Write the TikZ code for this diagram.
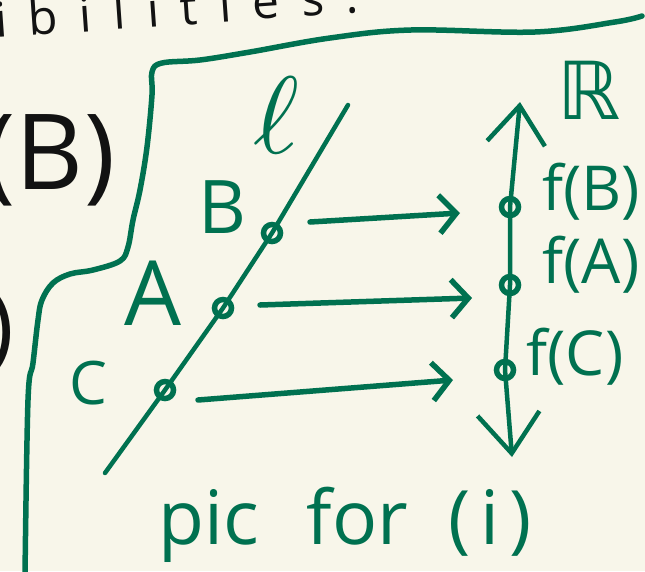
\documentclass[tikz,border=0pt]{standalone}
\usepackage{fontspec}
\usepackage{graphicx}
\setmainfont{Open Sans}
\newfontfamily\glyphfont{DejaVu Sans}
\newfontfamily\widefont[LetterSpace=45]{Open Sans}
\usetikzlibrary{arrows.meta}
\definecolor{ink}{RGB}{0,113,80}
\definecolor{paper}{RGB}{248,246,234}
\definecolor{pencil}{RGB}{18,18,18}
\begin{document}
\begin{tikzpicture}[x=1pt,y=-1pt,
  stroke/.style={draw=ink,line width=5.5pt,line cap=round,line join=round},
  dot/.style={circle,draw=ink,line width=5.5pt,minimum size=17pt,inner sep=0pt},
  lbl/.style={text=ink,inner sep=0pt},
  blk/.style={text=pencil,inner sep=0pt},
  mapsto/.style={stroke,-{Straight Barb[length=17pt,width=38pt]}},
  axis/.style={stroke,{Straight Barb[length=40pt,width=62pt]}-{Straight Barb[length=38pt,width=58pt]}}]
\useasboundingbox (0,0) rectangle (645,571);
\fill[paper] (0,0) rectangle (645,571);
\begin{scope}
\clip (0,0) rectangle (645,571);

% black notes left over from the previous part of the page
\node[blk,anchor=base west,rotate=4,font=\widefont\fontsize{48}{48}\selectfont] (word) at (-4,38) {ibilities.};
\node[blk,font=\fontsize{105}{105}\selectfont] (bracket) at (50,160) {(B)};
\node[blk,anchor=east,font=\fontsize{90}{90}\selectfont] (rparen) at (14,332) {)};

% hand-drawn frame around the sketch
\draw[stroke] plot[smooth,tension=0.6] coordinates {(642,16) (615,22) (535,32) (411,30) (330,38) (250,52) (200,60) (162,63) (152,72) (152,95) (147,147) (140,190) (133,220) (128,247) (120,261) (93,270) (70,274) (53,283) (42,300) (38,320) (33,363) (28,400) (25,575)};

% the line l with its three points
\coordinate (lbot) at (105,473);
\coordinate (ltop) at (348,105);
\node[dot] (B) at (272,233) {};
\node[dot] (A) at (223,308) {};
\node[dot] (C) at (165,390) {};
\draw[stroke,line width=4.5pt] (lbot) -- (C.center) -- (A.center) -- (B.center) -- (ltop);

\node[lbl] (ell) at (276,115) {\scalebox{11}{$\ell$}};
\node[lbl,font=\fontsize{74}{74}\selectfont] (labB) at (222,207) {B};
\node[lbl,font=\fontsize{90}{90}\selectfont] (labA) at (153,293) {A};
\node[lbl,font=\fontsize{60}{60}\selectfont] (labC) at (88,383) {C};

% the real line with the images
\coordinate (Rbot) at (512,457);
\coordinate (Rtop) at (520,102);
\node[dot] (fB) at (510,207) {};
\node[dot] (fA) at (510,285) {};
\node[dot] (fC) at (505,370) {};
\draw[axis,line width=4.5pt] (Rbot) -- (fC.center) -- (fA.center) -- (fB.center) -- (Rtop);

\node[lbl,font=\glyphfont\fontsize{80}{80}\selectfont] (reals) at (589,90) {ℝ};
\node[lbl,font=\fontsize{62}{62}\selectfont] (labfB) at (591,192) {f(B)};
\node[lbl,font=\fontsize{62}{62}\selectfont] (labfA) at (591,265) {f(A)};
\node[lbl,font=\fontsize{62}{62}\selectfont] (labfC) at (575,357) {f(C)};

% f sends each point across
\draw[mapsto] ([shift={(38,-11)}]B.center) -- ([shift={(-50,6)}]fB.center);
\draw[mapsto] ([shift={(37,-3)}]A.center) -- ([shift={(-38,13)}]fA.center);
\draw[mapsto] ([shift={(33,10)}]C.center) -- ([shift={(-52,10)}]fC.center);

\node[lbl,font=\fontsize{75}{75}\selectfont] (caption) at (345,525) {pic\hspace{48pt}for\hspace{40pt}(\hspace{10pt}i\hspace{10pt})};
\end{scope}
\end{tikzpicture}
\end{document}
